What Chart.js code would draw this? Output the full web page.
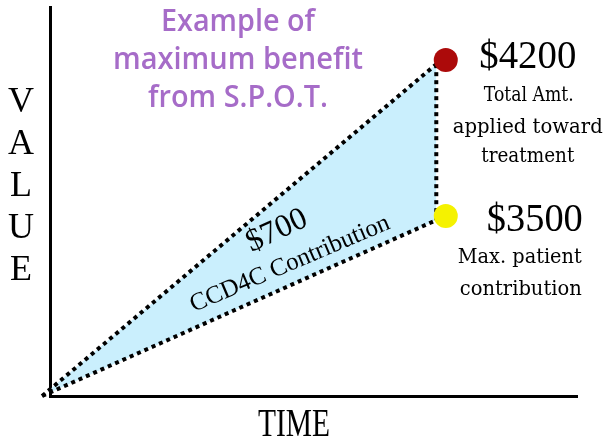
<!DOCTYPE html>
<html>
<head>
<meta charset="utf-8">
<script src="https://cdn.jsdelivr.net/npm/chart.js@4"></script>
<style>
  html, body { margin: 0; padding: 0; background: #fff; }
  #wrap { width: 609px; height: 443px; }
</style>
</head>
<body>
<div id="wrap"><canvas id="chart"></canvas></div>
<script>
// time runs 0..100, value runs 0..100 (picture is not to scale)
const lineTimes     = [-1.5, 73.3];
const totalValues   = [0, 85.3];   // total amount applied toward treatment
const patientValues = [0, 45.2];   // max patient contribution
const dotTimes      = [75.1, 75.1];
const dotValues     = [86.4, 46.3];
const dotColors     = ["#ac0a0a", "#f5f200"];
const amountLabels  = ["$4200", "$3500"];
const noteLabels    = [["Total Amt.", "applied toward", "treatment"], ["Max. patient", "contribution"]];
const gapLabels     = ["$700", "CCD4C Contribution"];
const titleLines    = ["Example of", "maximum benefit", "from S.P.O.T."];
const xTitle = "TIME";
const yTitle = "VALUE";

const pts = (xs, ys) => xs.map((x, i) => ({ x, y: ys[i] }));

const dotted = {
  borderColor: "#000",
  borderWidth: 4,
  borderDash: [4, 4],
  borderCapStyle: "butt",
  pointRadius: 0,
  tension: 0,
  clip: false,
  order: 2,
};

function txt(ctx, s, x, y, font, color, maxW, angle) {
  ctx.save();
  ctx.font = font;
  ctx.fillStyle = color;
  ctx.textAlign = "center";
  ctx.textBaseline = "middle";
  ctx.translate(x, y);
  if (angle) ctx.rotate(angle * Math.PI / 180);
  if (maxW) ctx.fillText(s, 0, 0, maxW); else ctx.fillText(s, 0, 0);
  ctx.restore();
}

const labelsPlugin = {
  id: "labels",
  afterDraw(chart) {
    const { ctx, scales: { x, y } } = chart;
    const serif = "'Liberation Serif', serif";
    const purple = "#a66cc8";

    // title
    const titleW = [154, 250, 180];
    [22, 60, 98].forEach((ty, i) =>
      txt(ctx, titleLines[i], 238, ty, "600 31px 'Open Sans'", purple, titleW[i]));

    // axis titles
    txt(ctx, xTitle, 294, 425, "40px " + serif, "#000", 72);
    yTitle.split("").forEach((ch, i) =>
      txt(ctx, ch, 21, 103 + i * 42, "36px " + serif, "#000"));

    // labels beside the end dots
    const noteOff = [[[83, 36, 90], [82, 68, 150], [82, 97, 93]], [[74, 42, 124], [75, 74, 122]]];
    const amtOff = [[82, -2, 97], [89, 5, 96]];
    dotTimes.forEach((t, i) => {
      const px = x.getPixelForValue(t), py = y.getPixelForValue(dotValues[i]);
      txt(ctx, amountLabels[i], px + amtOff[i][0], py + amtOff[i][1], "40px " + serif, "#000", amtOff[i][2]);
      noteLabels[i].forEach((s, j) => {
        const o = noteOff[i][j];
        txt(ctx, s, px + o[0], py + o[1], "21px 'DejaVu Serif'", "#000", o[2]);
      });
    });

    // difference label inside the band
    txt(ctx, gapLabels[0], 277, 231, "32px " + serif, "#000", 64, -25);
    txt(ctx, gapLabels[1], 290, 264, "25px " + serif, "#000", 226, -23);
  },
};

const hiddenTicks = { display: false, padding: 0, font: { size: 1 } };

new Chart(document.getElementById("chart"), {
  type: "line",
  data: {
    datasets: [
      { ...dotted, data: pts(lineTimes, totalValues), fill: "+1", backgroundColor: "#caeffd" },
      { ...dotted, data: pts(lineTimes, patientValues), fill: false },
      { ...dotted, data: pts([lineTimes[1], lineTimes[1]], [totalValues[1], patientValues[1]]), fill: false },
      {
        data: pts(dotTimes, dotValues),
        showLine: false,
        pointRadius: 12,
        pointHoverRadius: 12,
        pointBorderWidth: 0,
        pointBackgroundColor: dotColors,
        clip: false,
        order: 0,
      },
    ],
  },
  options: {
    responsive: true,
    maintainAspectRatio: false,
    animation: false,
    layout: { autoPadding: false, padding: { left: 50, right: 32, top: 7, bottom: 47 } },
    plugins: {
      legend: { display: false },
      tooltip: { enabled: false },
      filler: { drawTime: "beforeDatasetsDraw" },
    },
    scales: {
      x: {
        type: "linear", min: 0, max: 100,
        ticks: hiddenTicks,
        grid: { display: false, drawTicks: false },
        border: { color: "#000", width: 3 },
      },
      y: {
        type: "linear", min: 0, max: 100,
        ticks: hiddenTicks,
        grid: { display: false, drawTicks: false },
        border: { color: "#000", width: 3 },
      },
    },
  },
  plugins: [labelsPlugin],
});
</script>
</body>
</html>
